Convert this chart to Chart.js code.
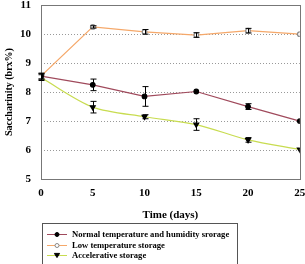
<!DOCTYPE html>
<html><head><meta charset="utf-8">
<script src="https://cdn.jsdelivr.net/npm/chart.js@4/dist/chart.umd.min.js"></script>
<style>html,body{margin:0;padding:0;background:#fff}#w{position:relative;width:305px;height:264px}</style>
</head><body><div id="w"><canvas id="c" width="305" height="264"></canvas></div>
<script>
const days = [0, 5, 10, 15, 20, 25];
const normalVals = [8.55, 8.25, 7.85, 8.02, 7.5, 7.0];
const normalErr = [0.1, 0.2, 0.34, 0.03, 0.1, 0.03];
const lowVals = [8.55, 10.25, 10.08, 9.97, 10.12, 10.0];
const lowErr = [0.1, 0.04, 0.08, 0.08, 0.08, 0.02];
const accelVals = [8.5, 7.48, 7.15, 6.88, 6.35, 6.02];
const accelErr = [0.1, 0.2, 0.07, 0.2, 0.08, 0.02];
const legendLabels = ['Normal temperature and humidity srorage', 'Low temperature storage', 'Accelerative storage'];
const yTicks = [5, 6, 7, 8, 9, 10, 11];
const xTicks = [0, 5, 10, 15, 20, 25];

const serif = '"Liberation Serif", "DejaVu Serif", serif';
const errs = [normalErr, lowErr, accelErr];

const errorBars = {
  id: 'errorBars',
  afterDatasetsDraw(chart) {
    const ctx = chart.ctx, xs = chart.scales.x, ys = chart.scales.y;
    ctx.save();
    ctx.strokeStyle = '#000';
    ctx.lineWidth = 1;
    chart.data.datasets.forEach((ds, i) => {
      ds.data.forEach((p, j) => {
        const e = errs[i][j];
        const x = Math.round(xs.getPixelForValue(p.x)) + 0.5;
        const y1 = ys.getPixelForValue(p.y + e), y2 = ys.getPixelForValue(p.y - e);
        if (y2 - y1 < 2) return;
        ctx.beginPath();
        ctx.moveTo(x, y1); ctx.lineTo(x, y2);
        ctx.moveTo(x - 3, y1); ctx.lineTo(x + 3, y1);
        ctx.moveTo(x - 3, y2); ctx.lineTo(x + 3, y2);
        ctx.stroke();
      });
    });
    ctx.restore();
  }
};

const customLegend = {
  id: 'customLegend',
  afterDraw(chart) {
    const ctx = chart.ctx;
    ctx.save();
    ctx.strokeStyle = '#555';
    ctx.lineWidth = 1;
    ctx.strokeRect(42.5, 223.5, 195, 45);
    ctx.font = 'bold 8.6px ' + serif;
    ctx.textBaseline = 'middle';
    ctx.fillStyle = '#000';
    const rows = [234, 245, 255];
    chart.data.datasets.forEach((ds, i) => {
      const y = rows[i];
      ctx.strokeStyle = ds.borderColor;
      ctx.lineWidth = 1;
      ctx.beginPath(); ctx.moveTo(47, y + 0.5); ctx.lineTo(67, y + 0.5); ctx.stroke();
      ctx.fillStyle = ds.pointBackgroundColor;
      ctx.strokeStyle = ds.pointBorderColor;
      const cx = 57, r = 2;
      ctx.beginPath();
      if (ds.pointStyle === 'triangle') {
        ctx.moveTo(cx - 2.6, y - 1.6); ctx.lineTo(cx + 2.6, y - 1.6); ctx.lineTo(cx, y + 2.6); ctx.closePath();
      } else {
        ctx.arc(cx, y + 0.5, r, 0, Math.PI * 2);
      }
      ctx.fill(); ctx.stroke();
      ctx.fillStyle = '#000';
      ctx.fillText(legendLabels[i], 72, y + 0.5);
    });
    ctx.restore();
  }
};

const toPts = (vals) => vals.map((v, i) => ({ x: days[i], y: v }));

new Chart(document.getElementById('c'), {
  type: 'line',
  data: {
    datasets: [
      { label: legendLabels[0], data: toPts(normalVals), borderColor: '#a04a5c', borderWidth: 1.2,
        pointStyle: 'circle', pointRadius: 2.3, pointBackgroundColor: '#000', pointBorderColor: '#000', tension: 0 },
      { label: legendLabels[1], data: toPts(lowVals), borderColor: '#f5a86a', borderWidth: 1.2,
        pointStyle: 'circle', pointRadius: 2.3, pointBackgroundColor: '#fff', pointBorderColor: '#888', tension: 0 },
      { label: legendLabels[2], data: toPts(accelVals), borderColor: '#c8dc50', borderWidth: 1.2,
        pointStyle: 'triangle', rotation: 180, pointRadius: 2.8, pointBackgroundColor: '#000', pointBorderColor: '#000', tension: 0.3 }
    ]
  },
  options: {
    responsive: false, animation: false, devicePixelRatio: 1,
    layout: { padding: { left: 3, right: 4, top: 5, bottom: 42 } },
    plugins: { legend: { display: false }, tooltip: { enabled: false } },
    scales: {
      x: {
        type: 'linear', min: 0, max: 25,
        afterBuildTicks: (s) => { s.ticks = xTicks.map(v => ({ value: v })); },
        grid: { display: false, drawTicks: false },
        border: { color: '#444', width: 1 },
        ticks: { color: '#000', font: { family: serif, size: 11, weight: 'bold' }, padding: 8 },
        title: { display: true, text: 'Time (days)', color: '#000', font: { family: serif, size: 11, weight: 'bold' }, padding: { top: 4, bottom: 0 } },
        afterFit: (s) => { s.height = 43; s.paddingLeft = 0; s.paddingRight = 0; }
      },
      y: {
        min: 5, max: 11,
        afterBuildTicks: (s) => { s.ticks = yTicks.map(v => ({ value: v })); },
        grid: { display: false, drawTicks: false },
        border: { color: '#444', width: 1 },
        ticks: { color: '#000', font: { family: serif, size: 11, weight: 'bold' }, padding: 10 },
        title: { display: true, text: 'Saccharinity (brx%)', color: '#000', font: { family: serif, size: 10, weight: 'bold' }, padding: { top: 0, bottom: 2 } },
        afterFit: (s) => { s.width = 38; s.paddingTop = 0; s.paddingBottom = 0; }
      }
    }
  },
  plugins: [{
    id: 'frame',
    beforeDatasetsDraw(chart) {
      const a = chart.chartArea, ctx = chart.ctx, ys = chart.scales.y;
      ctx.save();
      ctx.strokeStyle = '#999'; ctx.lineWidth = 1; ctx.setLineDash([1, 2]);
      yTicks.slice(1, -1).forEach(v => {
        const y = Math.round(ys.getPixelForValue(v)) + 0.5;
        ctx.beginPath(); ctx.moveTo(a.left, y); ctx.lineTo(a.right, y); ctx.stroke();
      });
      ctx.setLineDash([]);
      ctx.strokeStyle = '#777';
      ctx.strokeRect(Math.round(a.left) + 0.5, Math.round(a.top) + 0.5, Math.round(a.right - a.left), Math.round(a.bottom - a.top));
      ctx.restore();
    }
  }, errorBars, customLegend]
});
</script>
</body></html>
